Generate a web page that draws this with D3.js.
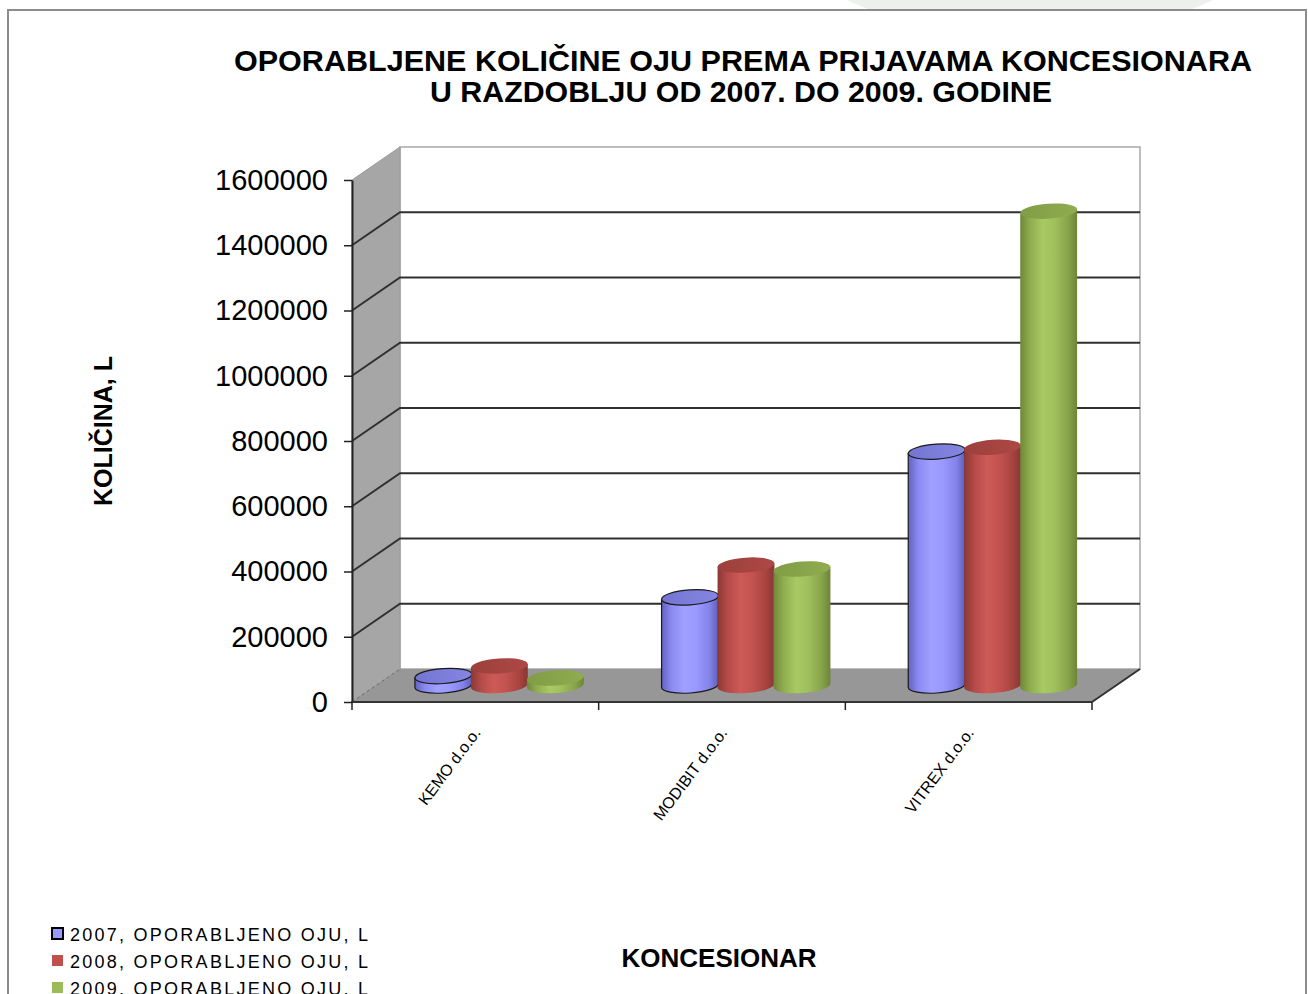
<!DOCTYPE html>
<html>
<head>
<meta charset="utf-8">
<script src="https://cdn.jsdelivr.net/npm/d3@7"></script>
<style>
  body { margin: 0; background: #fff; }
  svg { display: block; font-family: 'Liberation Sans', Arial, sans-serif; }
</style>
</head>
<body>
<svg id="chart" width="1308" height="994"></svg>
<script>
'use strict';

var categories = ['KEMO d.o.o.', 'MODIBIT d.o.o.', 'VITREX d.o.o.'];
var seriesKeys = ['2007', '2008', '2009'];
var seriesNames = ['2007, OPORABLJENO OJU, L', '2008, OPORABLJENO OJU, L', '2009, OPORABLJENO OJU, L'];
var values2007 = [29000, 270000, 717000];
var values2008 = [60000, 369000, 730000];
var values2009 = [23000, 357000, 1454000];
var yTicks = [0, 200000, 400000, 600000, 800000, 1000000, 1200000, 1400000, 1600000];
var titleLines = ['OPORABLJENE KOLIČINE OJU PREMA PRIJAVAMA KONCESIONARA', 'U RAZDOBLJU OD 2007. DO 2009. GODINE'];

// Colours for each series: body gradient stops, top cap, outline.
var palette = {
    '2007': {stops: ['#6262c0', '#8b8bf2', '#a0a0ff', '#9a9aff', '#8282e8', '#5e5eb8'], top: ['#7474d2', '#8585e2'], stroke: '#1a1a1a', legend: '#9999ff'},
    '2008': {stops: ['#8a3835', '#b54b48', '#cd5a57', '#c45350', '#a8443f', '#873633'], top: ['#9c403c', '#ad4845'], stroke: 'none', legend: '#c0504d'},
    '2009': {stops: ['#6f883a', '#90ae50', '#a8c963', '#a0c05c', '#87a34a', '#6c8537'], top: ['#819d45', '#8fac50'], stroke: 'none', legend: '#9bbb59'}
};

var series = seriesKeys.map(function(key, i) {
    return {key: key, name: seriesNames[i], values: [values2007, values2008, values2009][i]};
});

var svg = d3.select('#chart');

// Front plane of the 3D box and the offset to its back wall.
var frontLeft = 352;
var frontRight = 1092;
var depthX = 48;
var depthY = -33;

var x = d3.scaleBand().domain(categories).range([frontLeft, frontRight]);
var y = d3.scaleLinear().domain([0, 1600000]).range([702, 180]);
var inner = d3.scaleBand().domain(seriesKeys).range([-84, 84]);

var yMax = y.domain()[1];
var y0 = y(0);

// Faint shape peeking above the frame, top right.
svg.append('circle')
    .attr('cx', 1030).attr('cy', -400).attr('r', 440)
    .attr('fill', '#eef0ee');

// Chart frame.
svg.append('rect')
    .attr('x', 8).attr('y', 10)
    .attr('width', 1298).attr('height', 1000)
    .attr('fill', '#fff')
    .attr('stroke', '#8c8c8c')
    .attr('stroke-width', 2);

var defs = svg.append('defs');
seriesKeys.forEach(function(key) {
    var body = defs.append('linearGradient')
        .attr('id', 'body-' + key)
        .attr('x1', 0).attr('x2', 1).attr('y1', 0).attr('y2', 0);
    var offsets = [0, 0.18, 0.4, 0.6, 0.85, 1];
    palette[key].stops.forEach(function(c, i) {
        body.append('stop').attr('offset', offsets[i]).attr('stop-color', c);
    });
    var top = defs.append('linearGradient')
        .attr('id', 'top-' + key)
        .attr('x1', 0).attr('x2', 1).attr('y1', 0).attr('y2', 0);
    top.append('stop').attr('offset', 0).attr('stop-color', palette[key].top[0]);
    top.append('stop').attr('offset', 1).attr('stop-color', palette[key].top[1]);
});

// Walls and floor.
var walls = svg.append('g').attr('class', 'walls');

walls.append('rect')
    .attr('x', frontLeft + depthX)
    .attr('y', y(yMax) + depthY)
    .attr('width', frontRight - frontLeft)
    .attr('height', y0 - y(yMax))
    .attr('fill', '#fff')
    .attr('stroke', '#a8a8a8')
    .attr('stroke-width', 1.5);

walls.append('polygon')
    .attr('points', [
        [frontLeft, y(yMax)],
        [frontLeft + depthX, y(yMax) + depthY],
        [frontLeft + depthX, y0 + depthY],
        [frontLeft, y0]
    ].join(' '))
    .attr('fill', '#a6a6a6')
    .attr('stroke', '#9a9a9a');

walls.append('polygon')
    .attr('points', [
        [frontLeft, y0],
        [frontRight, y0],
        [frontRight + depthX, y0 + depthY],
        [frontLeft + depthX, y0 + depthY]
    ].join(' '))
    .attr('fill', '#979797');

walls.append('line')
    .attr('x1', frontLeft).attr('y1', y0)
    .attr('x2', frontLeft + depthX).attr('y2', y0 + depthY)
    .attr('stroke', '#6a6a6a')
    .attr('stroke-dasharray', '3,3');

walls.append('line')
    .attr('x1', frontRight).attr('y1', y0)
    .attr('x2', frontRight + depthX).attr('y2', y0 + depthY)
    .attr('stroke', '#333')
    .attr('stroke-width', 2);

// Gridlines run across the side wall and the back wall.
walls.selectAll('path.grid')
    .data(yTicks.filter(function(v) { return v > 0 && v < yMax; }))
    .enter().append('path')
    .attr('class', 'grid')
    .attr('d', function(v) {
        return 'M' + frontLeft + ',' + y(v) +
            'L' + (frontLeft + depthX) + ',' + (y(v) + depthY) +
            'L' + (frontRight + depthX) + ',' + (y(v) + depthY);
    })
    .attr('fill', 'none')
    .attr('stroke', '#303030')
    .attr('stroke-width', 2);

// Cylinders sit half way into the box.
var tilt = -4;
var ry = 7.5;

function cylinderPath(cx, yTop, yBottom, rx) {
    var a = tilt * Math.PI / 180;
    var ex = rx * Math.cos(a);
    var ey = rx * Math.sin(a);
    return 'M' + (cx - ex) + ',' + (yTop - ey) +
        'L' + (cx - ex) + ',' + (yBottom - ey) +
        'A' + rx + ',' + ry + ' ' + tilt + ' 0 0 ' + (cx + ex) + ',' + (yBottom + ey) +
        'L' + (cx + ex) + ',' + (yTop + ey) + 'Z';
}

var bars = svg.append('g').attr('class', 'bars');

categories.forEach(function(cat, ci) {
    series.forEach(function(s) {
        var cx = x(cat) + x.bandwidth() / 2 + inner(s.key) + inner.bandwidth() / 2 + depthX / 2;
        var yb = y0 + depthY / 2;
        var yt = y(s.values[ci]) + depthY / 2;
        var rx = inner.bandwidth() / 2 + 0.5;
        var col = palette[s.key];
        var g = bars.append('g');
        g.append('path')
            .attr('d', cylinderPath(cx, yt, yb, rx))
            .attr('fill', 'url(#body-' + s.key + ')')
            .attr('stroke', col.stroke)
            .attr('stroke-width', 1.2);
        g.append('ellipse')
            .attr('cx', cx).attr('cy', yt)
            .attr('rx', rx).attr('ry', ry)
            .attr('transform', 'rotate(' + tilt + ',' + cx + ',' + yt + ')')
            .attr('fill', 'url(#top-' + s.key + ')')
            .attr('stroke', col.stroke)
            .attr('stroke-width', 1.2);
    });
});

// Value axis on the front left edge.
var yAxis = d3.axisLeft(y)
    .tickValues(yTicks)
    .tickSize(8)
    .tickSizeOuter(0)
    .tickPadding(16)
    .tickFormat(d3.format('d'));

var yAxisG = svg.append('g')
    .attr('transform', 'translate(' + frontLeft + ',0)')
    .call(yAxis);

yAxisG.select('.domain').attr('stroke', '#222').attr('stroke-width', 2);
yAxisG.selectAll('.tick line').attr('stroke', '#222').attr('stroke-width', 1.5);
yAxisG.selectAll('.tick text')
    .attr('fill', '#000')
    .style('font-family', "'Liberation Sans', Arial, sans-serif")
    .style('font-size', '29px');

// Category axis on the front edge of the floor.
svg.append('line')
    .attr('x1', frontLeft - 1).attr('y1', y0)
    .attr('x2', frontRight).attr('y2', y0)
    .attr('stroke', '#333')
    .attr('stroke-width', 2);

var bounds = categories.map(function(c) { return x(c); }).concat([frontRight]);
svg.selectAll('line.xtick')
    .data(bounds)
    .enter().append('line')
    .attr('class', 'xtick')
    .attr('x1', function(d) { return d; })
    .attr('x2', function(d) { return d; })
    .attr('y1', y0)
    .attr('y2', y0 + 8)
    .attr('stroke', '#222')
    .attr('stroke-width', 1.5);

svg.selectAll('text.xlabel')
    .data(categories)
    .enter().append('text')
    .attr('class', 'xlabel')
    .attr('transform', function(d) {
        return 'translate(' + (x(d) + x.bandwidth() / 2 + 6) + ',' + (y0 + 31) + ') rotate(-53)';
    })
    .attr('text-anchor', 'end')
    .style('font-size', '16px')
    .text(function(d) { return d; });

// Title.
svg.selectAll('text.title')
    .data(titleLines)
    .enter().append('text')
    .attr('class', 'title')
    .attr('x', function(d, i) { return i === 0 ? 743 : 741; })
    .attr('y', function(d, i) { return i === 0 ? 71 : 102; })
    .attr('text-anchor', 'middle')
    .attr('textLength', function(d, i) { return i === 0 ? 1018 : 622; })
    .attr('lengthAdjust', 'spacingAndGlyphs')
    .style('font-size', '30px')
    .style('font-weight', 'bold')
    .text(function(d) { return d; });

// Axis titles.
svg.append('text')
    .attr('transform', 'translate(112,431) rotate(-90)')
    .attr('text-anchor', 'middle')
    .style('font-size', '25px')
    .style('font-weight', 'bold')
    .text('KOLIČINA, L');

svg.append('text')
    .attr('x', 719)
    .attr('y', 967)
    .attr('text-anchor', 'middle')
    .style('font-size', '26px')
    .style('font-weight', 'bold')
    .text('KONCESIONAR');

// Legend, bottom left, partly cut by the page edge.
var legend = svg.append('g').attr('class', 'legend');
var legendRows = legend.selectAll('g')
    .data(series)
    .enter().append('g')
    .attr('transform', function(d, i) { return 'translate(52,' + (928 + i * 27) + ')'; });

legendRows.append('rect')
    .attr('width', 11).attr('height', 11)
    .attr('fill', function(d) { return palette[d.key].legend; })
    .attr('stroke', function(d) { return d.key === '2007' ? '#000' : 'none'; })
    .attr('stroke-width', 2);

legendRows.append('text')
    .attr('x', 18)
    .attr('y', 12.5)
    .attr('textLength', 298)
    .attr('lengthAdjust', 'spacing')
    .style('font-size', '18px')
    .text(function(d) { return d.name; });
</script>
</body>
</html>
